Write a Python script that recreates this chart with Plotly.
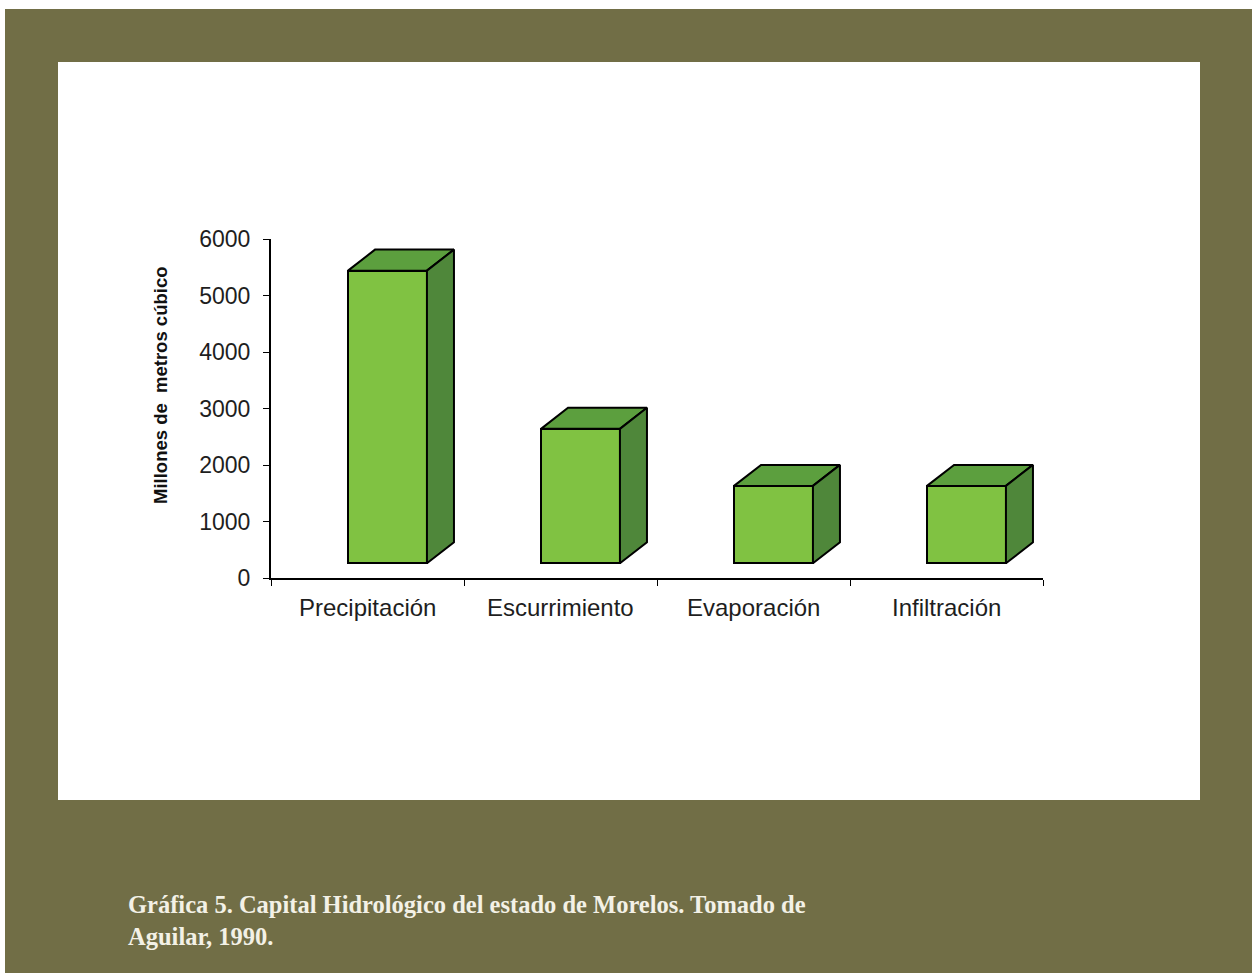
import plotly.graph_objects as go

# Hydrological budget of Morelos (millions of cubic metres)
categories = ["Precipitación", "Escurrimiento", "Evaporación", "Infiltración"]
values = [5440, 2640, 1630, 1630]
y_ticks = [0, 1000, 2000, 3000, 4000, 5000, 6000]

W, H = 1252, 973
FLOOR = 260          # base of the boxes (value units)
DX, DY = 0.14, 372   # depth offset of the 3D boxes (x units, value units)
X0, X1 = -0.101, 0.308  # front face extent relative to the category centre

FRONT = "#80c242"
TOP = "#5c9f3e"
SIDE = "#4f873a"
OLIVE = "#716e46"


def px(x):
    return x / W


def py(y):
    return 1 - y / H


fig = go.Figure()

# front faces
fig.add_trace(go.Bar(
    x=list(range(len(categories))),
    y=[v - FLOOR for v in values],
    base=FLOOR,
    width=X1 - X0,
    offset=X0,
    marker=dict(color=FRONT, line=dict(color="black", width=2)),
    hoverinfo="skip",
    showlegend=False,
))

# top and side faces
for i, v in enumerate(values):
    xl, xr = i + X0, i + X1
    fig.add_trace(go.Scatter(
        x=[xl, xl + DX, xr + DX, xr, xl],
        y=[v, v + DY, v + DY, v, v],
        fill="toself", fillcolor=TOP, mode="lines",
        line=dict(color="black", width=2),
        hoverinfo="skip", showlegend=False,
    ))
    fig.add_trace(go.Scatter(
        x=[xr, xr + DX, xr + DX, xr, xr],
        y=[v, v + DY, FLOOR + DY, FLOOR, v],
        fill="toself", fillcolor=SIDE, mode="lines",
        line=dict(color="black", width=2),
        hoverinfo="skip", showlegend=False,
    ))

shapes = [
    dict(type="rect", xref="paper", yref="paper", layer="below",
         x0=px(5), x1=1, y0=0, y1=py(9), fillcolor=OLIVE, line=dict(width=0)),
    dict(type="rect", xref="paper", yref="paper", layer="below",
         x0=px(58), x1=px(1200), y0=py(800), y1=py(62),
         fillcolor="white", line=dict(width=0)),
]

annotations = []
for i, c in enumerate(categories):
    annotations.append(dict(
        x=i, y=py(607), xref="x", yref="paper", text=c, showarrow=False,
        font=dict(family="Arial, Liberation Sans", size=24, color="#1e1e1e"),
        xanchor="center", yanchor="middle",
    ))

annotations.append(dict(
    x=px(160), y=py(386), xref="paper", yref="paper",
    text="<b>Millones de  metros cúbico</b>", textangle=-90, showarrow=False,
    font=dict(family="Arial, Liberation Sans", size=18.5, color="#111111"),
    xanchor="center", yanchor="middle",
))

annotations.append(dict(
    x=px(126), y=py(920), xref="paper", yref="paper", align="left",
    text="<b>Gráfica 5. Capital Hidrológico del estado de Morelos. Tomado de<br>Aguilar, 1990.</b>",
    showarrow=False, xanchor="left", yanchor="middle",
    font=dict(family="Liberation Serif, Times New Roman, serif", size=24.5, color="#f3f1e6"),
))

fig.update_layout(
    width=W, height=H,
    margin=dict(l=0, r=0, t=0, b=0, pad=0, autoexpand=False),
    paper_bgcolor="white",
    plot_bgcolor="rgba(0,0,0,0)",
    shapes=shapes,
    annotations=annotations,
    bargap=0,
    xaxis=dict(
        domain=[px(271), px(1043)], range=[-0.5, 3.5],
        showgrid=False, zeroline=False, automargin=False,
        showline=True, linecolor="black", linewidth=2,
        tickvals=[-0.5, 0.5, 1.5, 2.5, 3.5], ticktext=[""] * 5,
        ticks="outside", ticklen=6, tickwidth=1, tickcolor="black",
        fixedrange=True,
    ),
    yaxis=dict(
        domain=[py(578), py(239)], range=[0, 6000],
        showgrid=False, zeroline=False, automargin=False,
        showline=True, linecolor="black", linewidth=2,
        tickvals=y_ticks, ticktext=[str(t) for t in y_ticks],
        ticks="outside", ticklen=6, tickwidth=1, tickcolor="black",
        tickfont=dict(family="Arial, Liberation Sans", size=23, color="#1e1e1e"),
        ticklabelstandoff=8,
        fixedrange=True,
    ),
)

fig.write_html("out.html")
